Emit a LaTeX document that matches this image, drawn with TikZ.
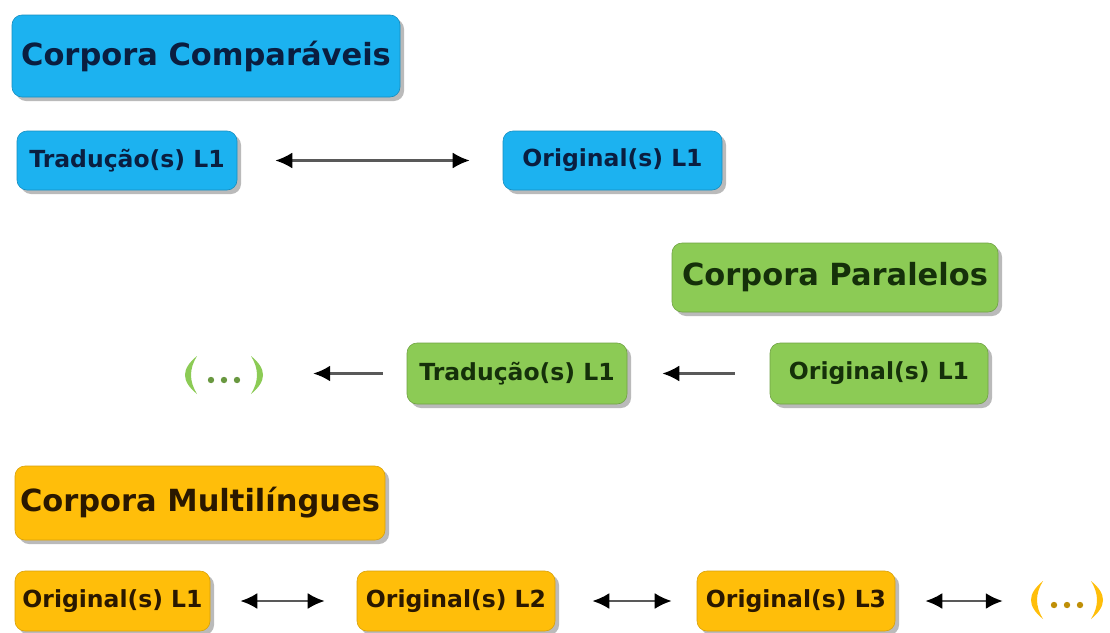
\documentclass[tikz,border=0pt]{standalone}
\usepackage{fontspec}
\setmainfont{DejaVu Sans}
\usetikzlibrary{shadows,arrows.meta}

\definecolor{cblue}{HTML}{1CB2F0}
\definecolor{cgreen}{HTML}{8CCB55}
\definecolor{corange}{HTML}{FFBE0A}
\definecolor{tblue}{HTML}{0A1E40}
\definecolor{tgreen}{HTML}{15300A}
\definecolor{torange}{HTML}{2A1800}

\tikzset{
  box/.style={rectangle, rounded corners=10pt, align=center, inner sep=0pt,
    font=\bfseries, line width=0.6pt,
    drop shadow={shadow xshift=4pt, shadow yshift=-4pt, fill=black!60, opacity=0.45}},
  bluebox/.style={box, fill=cblue, draw=cblue!80!black, text=tblue},
  greenbox/.style={box, fill=cgreen, draw=cgreen!80!black, text=tgreen},
  orangebox/.style={box, fill=corange, draw=corange!85!black, text=torange},
  titlefont/.style={font=\fontsize{30.5}{34}\selectfont\bfseries},
  itemfont/.style={font=\fontsize{23.5}{26}\selectfont\bfseries},
  % "(...)" mark: two crescent-shaped brackets with three dots between them
  elidedmark/.style={rectangle, inner sep=0pt, minimum height=46pt,
    path picture={
      \fill[#1]
        ([xshift=14pt,yshift=19pt]path picture bounding box.west)
        .. controls +(-16,13) and +(-16,-13) ..
        ([xshift=14pt,yshift=-19pt]path picture bounding box.west)
        .. controls +(-8,-13) and +(-8,13) ..
        ([xshift=14pt,yshift=19pt]path picture bounding box.west);
      \fill[#1]
        ([xshift=-14pt,yshift=19pt]path picture bounding box.east)
        .. controls +(16,13) and +(16,-13) ..
        ([xshift=-14pt,yshift=-19pt]path picture bounding box.east)
        .. controls +(8,-13) and +(8,13) ..
        ([xshift=-14pt,yshift=19pt]path picture bounding box.east);
      \fill[#1!75!black] ([xshift=-13pt,yshift=-5pt]path picture bounding box.center) circle (3.2pt);
      \fill[#1!75!black] ([yshift=-5pt]path picture bounding box.center) circle (3.2pt);
      \fill[#1!75!black] ([xshift=13pt,yshift=-5pt]path picture bounding box.center) circle (3.2pt);
    }},
  tip/.tip={Latex[length=17pt,width=16pt,black]},
  twoway/.style={tip-tip, line width=2.4pt, black!65},
  oneway/.style={-tip, line width=2.4pt, black!65}
}

\begin{document}
\begin{tikzpicture}[x=1pt,y=-1pt]
\useasboundingbox[fill=white] (0,0) rectangle (1110,632);

% comparable corpora
\node[bluebox, titlefont, minimum width=388pt, minimum height=82pt] (ct) at (206,56) {Corpora Comparáveis};
\node[bluebox, itemfont, minimum width=220pt, minimum height=59pt] (bt) at (127,160.5) {Tradução(s) L1};
\node[bluebox, itemfont, minimum width=219pt, minimum height=59pt] (bo) at (612.5,160.5) {Original(s) L1};
\draw[twoway, shorten <=38pt, shorten >=33pt] (bt.east) -- (bo.west);

% parallel corpora
\node[greenbox, titlefont, minimum width=326pt, minimum height=69pt] (cp) at (835,277.5) {Corpora Paralelos};
\node[greenbox, itemfont, minimum width=220pt, minimum height=61pt] (gt) at (517,373.5) {Tradução(s) L1};
\node[greenbox, itemfont, minimum width=218pt, minimum height=61pt] (go) at (879,373.5) {Original(s) L1};
\node[elidedmark=cgreen, minimum width=82pt] (gd) at (224,375) {};
\draw[oneway, shorten <=35pt, shorten >=35pt] (go.west) -- (gt.east);
\draw[oneway, shorten <=24pt, shorten >=48pt] (gt.west) -- (gd.east |- gt.west);

% multilingual corpora
\node[orangebox, titlefont, minimum width=370pt, minimum height=74pt] (cm) at (200,503) {Corpora Multilíngues};
\node[orangebox, itemfont, minimum width=195pt, minimum height=60pt] (o1) at (112.5,601) {Original(s) L1};
\node[orangebox, itemfont, minimum width=198pt, minimum height=60pt] (o2) at (456,601) {Original(s) L2};
\node[orangebox, itemfont, minimum width=198pt, minimum height=60pt] (o3) at (796,601) {Original(s) L3};
\node[elidedmark=corange, minimum width=76pt] (od) at (1067,600) {};
\draw[twoway, shorten <=30pt, shorten >=32pt] (o1.east) -- (o2.west);
\draw[twoway, shorten <=37pt, shorten >=25pt] (o2.east) -- (o3.west);
\draw[twoway, shorten <=30pt, shorten >=26pt] (o3.east) -- (od.west |- o3.east);
\end{tikzpicture}
\end{document}
